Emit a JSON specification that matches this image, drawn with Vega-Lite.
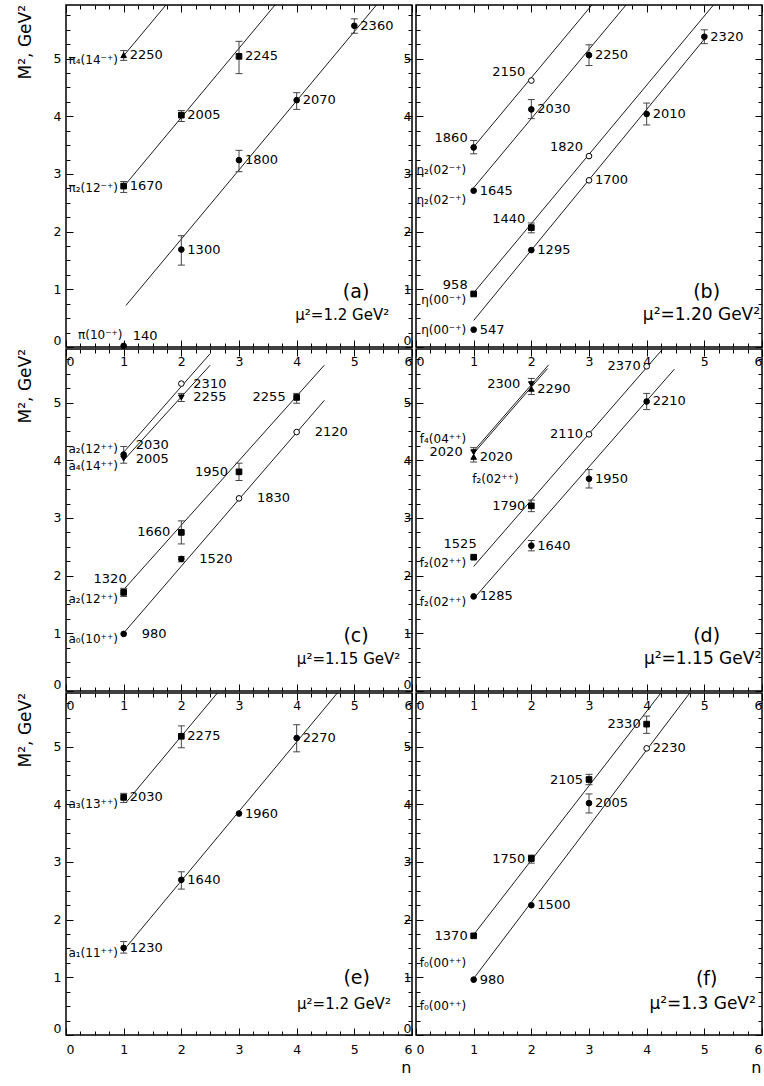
{
"$schema": "https://vega.github.io/schema/vega-lite/v6.json",
"background": "white",
"padding": {"left": 16, "top": 3, "right": 0, "bottom": 0},
"data": {"values": [
{"k":"pt","p":"a","n":1,"m":0.02,"s":"circle","t":"140","q":"ur"},
{"k":"pt","p":"a","n":2,"m":1.69,"lo":1.42,"hi":1.93,"s":"circle","t":"1300","q":"r"},
{"k":"pt","p":"a","n":3,"m":3.24,"lo":3.04,"hi":3.41,"s":"circle","t":"1800","q":"r"},
{"k":"pt","p":"a","n":4,"m":4.28,"lo":4.12,"hi":4.41,"s":"circle","t":"2070","q":"r"},
{"k":"pt","p":"a","n":5,"m":5.57,"lo":5.44,"hi":5.69,"s":"circle","t":"2360","q":"r"},
{"k":"pt","p":"a","n":1,"m":2.79,"lo":2.68,"hi":2.87,"s":"square","t":"1670","q":"r"},
{"k":"pt","p":"a","n":2,"m":4.02,"lo":3.91,"hi":4.10,"s":"square","t":"2005","q":"r"},
{"k":"pt","p":"a","n":3,"m":5.04,"lo":4.74,"hi":5.30,"s":"square","t":"2245","q":"r"},
{"k":"pt","p":"a","n":1,"m":5.06,"lo":4.97,"hi":5.14,"s":"tri","t":"2250","q":"r"},
{"k":"pt","p":"b","n":1,"m":0.30,"s":"circle","t":"547","q":"r"},
{"k":"pt","p":"b","n":2,"m":1.68,"s":"circle","t":"1295","q":"r"},
{"k":"pt","p":"b","n":3,"m":2.89,"s":"open","t":"1700","q":"r"},
{"k":"pt","p":"b","n":4,"m":4.04,"lo":3.85,"hi":4.23,"s":"circle","t":"2010","q":"r"},
{"k":"pt","p":"b","n":5,"m":5.38,"lo":5.26,"hi":5.50,"s":"circle","t":"2320","q":"r"},
{"k":"pt","p":"b","n":1,"m":0.92,"s":"square","t":"958","q":"ul"},
{"k":"pt","p":"b","n":2,"m":2.07,"lo":1.98,"hi":2.15,"s":"square","t":"1440","q":"ul"},
{"k":"pt","p":"b","n":3,"m":3.31,"s":"open","t":"1820","q":"ul"},
{"k":"pt","p":"b","n":1,"m":2.71,"s":"circle","t":"1645","q":"r"},
{"k":"pt","p":"b","n":2,"m":4.12,"lo":3.96,"hi":4.29,"s":"circle","t":"2030","q":"r"},
{"k":"pt","p":"b","n":3,"m":5.06,"lo":4.88,"hi":5.24,"s":"circle","t":"2250","q":"r"},
{"k":"pt","p":"b","n":1,"m":3.46,"lo":3.35,"hi":3.58,"s":"circle","t":"1860","q":"ul"},
{"k":"pt","p":"b","n":2,"m":4.62,"s":"open","t":"2150","q":"ul"},
{"k":"pt","p":"c","n":1,"m":0.99,"s":"circle","t":"980","q":"rw"},
{"k":"pt","p":"c","n":2,"m":2.29,"lo":2.24,"hi":2.33,"s":"circle","t":"1520","q":"rw"},
{"k":"pt","p":"c","n":3,"m":3.34,"s":"open","t":"1830","q":"rw"},
{"k":"pt","p":"c","n":4,"m":4.49,"s":"open","t":"2120","q":"rw"},
{"k":"pt","p":"c","n":1,"m":1.71,"lo":1.64,"hi":1.78,"s":"square","t":"1320","q":"uc"},
{"k":"pt","p":"c","n":2,"m":2.75,"lo":2.55,"hi":2.95,"s":"square","t":"1660","q":"lw"},
{"k":"pt","p":"c","n":3,"m":3.80,"lo":3.65,"hi":3.95,"s":"square","t":"1950","q":"lw"},
{"k":"pt","p":"c","n":4,"m":5.09,"lo":4.99,"hi":5.16,"s":"square","t":"2255","q":"lw"},
{"k":"pt","p":"c","n":1,"m":4.10,"lo":3.95,"hi":4.24,"s":"circle","t":"2030","q":"rmu"},
{"k":"pt","p":"c","n":1,"m":4.03,"s":"tridown","t":"2005","q":"rm"},
{"k":"pt","p":"c","n":2,"m":5.33,"s":"open","t":"2310","q":"rm"},
{"k":"pt","p":"c","n":2,"m":5.09,"lo":5.02,"hi":5.16,"s":"tridown","t":"2255","q":"rm"},
{"k":"pt","p":"d","n":1,"m":1.64,"s":"circle","t":"1285","q":"r"},
{"k":"pt","p":"d","n":2,"m":2.52,"lo":2.43,"hi":2.61,"s":"circle","t":"1640","q":"r"},
{"k":"pt","p":"d","n":3,"m":3.68,"lo":3.52,"hi":3.84,"s":"circle","t":"1950","q":"r"},
{"k":"pt","p":"d","n":4,"m":5.02,"lo":4.88,"hi":5.16,"s":"circle","t":"2210","q":"r"},
{"k":"pt","p":"d","n":1,"m":2.32,"s":"square","t":"1525","q":"uc"},
{"k":"pt","p":"d","n":2,"m":3.21,"lo":3.11,"hi":3.31,"s":"square","t":"1790","q":"l"},
{"k":"pt","p":"d","n":3,"m":4.45,"s":"open","t":"2110","q":"l"},
{"k":"pt","p":"d","n":4,"m":5.63,"s":"open","t":"2370","q":"l"},
{"k":"pt","p":"d","n":1,"m":4.14,"lo":3.97,"hi":4.22,"s":"tridown","t":"2020","q":"lw"},
{"k":"pt","p":"d","n":1,"m":4.06,"s":"tri","t":"2020","q":"r"},
{"k":"pt","p":"d","n":2,"m":5.32,"lo":5.14,"hi":5.42,"s":"tridown","t":"2300","q":"lw"},
{"k":"pt","p":"d","n":2,"m":5.24,"s":"tri","t":"2290","q":"r"},
{"k":"pt","p":"e","n":1,"m":1.51,"lo":1.42,"hi":1.62,"s":"circle","t":"1230","q":"r"},
{"k":"pt","p":"e","n":2,"m":2.69,"lo":2.53,"hi":2.83,"s":"circle","t":"1640","q":"r"},
{"k":"pt","p":"e","n":3,"m":3.84,"s":"circle","t":"1960","q":"r"},
{"k":"pt","p":"e","n":4,"m":5.15,"lo":4.91,"hi":5.38,"s":"circle","t":"2270","q":"r"},
{"k":"pt","p":"e","n":1,"m":4.12,"lo":4.03,"hi":4.19,"s":"square","t":"2030","q":"r"},
{"k":"pt","p":"e","n":2,"m":5.18,"lo":4.98,"hi":5.36,"s":"square","t":"2275","q":"r"},
{"k":"pt","p":"f","n":1,"m":0.96,"s":"circle","t":"980","q":"r"},
{"k":"pt","p":"f","n":2,"m":2.25,"s":"circle","t":"1500","q":"r"},
{"k":"pt","p":"f","n":3,"m":4.02,"lo":3.85,"hi":4.18,"s":"circle","t":"2005","q":"r"},
{"k":"pt","p":"f","n":4,"m":4.97,"s":"open","t":"2230","q":"r"},
{"k":"pt","p":"f","n":1,"m":1.72,"s":"square","t":"1370","q":"l"},
{"k":"pt","p":"f","n":2,"m":3.06,"lo":2.98,"hi":3.12,"s":"square","t":"1750","q":"l"},
{"k":"pt","p":"f","n":3,"m":4.43,"lo":4.34,"hi":4.52,"s":"square","t":"2105","q":"l"},
{"k":"pt","p":"f","n":4,"m":5.39,"lo":5.23,"hi":5.53,"s":"square","t":"2330","q":"l"},
{"k":"line","p":"a","lid":"a1","n":1.0,"m":5.05},
{"k":"line","p":"a","lid":"a1","n":1.9,"m":6.13},
{"k":"line","p":"a","lid":"a2","n":1.05,"m":2.84},
{"k":"line","p":"a","lid":"a2","n":3.85,"m":6.2},
{"k":"line","p":"a","lid":"a3","n":1.04,"m":0.72},
{"k":"line","p":"a","lid":"a3","n":5.45,"m":6.01},
{"k":"line","p":"b","lid":"b1","n":1.0,"m":3.47},
{"k":"line","p":"b","lid":"b1","n":3.2,"m":6.11},
{"k":"line","p":"b","lid":"b2","n":1.0,"m":2.76},
{"k":"line","p":"b","lid":"b2","n":3.7,"m":6.0},
{"k":"line","p":"b","lid":"b3","n":1.0,"m":0.94},
{"k":"line","p":"b","lid":"b3","n":5.2,"m":5.98},
{"k":"line","p":"b","lid":"b4","n":1.0,"m":0.46},
{"k":"line","p":"b","lid":"b4","n":5.05,"m":5.4},
{"k":"line","p":"c","lid":"c1","n":1.0,"m":4.14},
{"k":"line","p":"c","lid":"c1","n":2.5,"m":5.85},
{"k":"line","p":"c","lid":"c2","n":1.0,"m":4.0},
{"k":"line","p":"c","lid":"c2","n":2.5,"m":5.65},
{"k":"line","p":"c","lid":"c3","n":1.02,"m":1.78},
{"k":"line","p":"c","lid":"c3","n":4.48,"m":5.65},
{"k":"line","p":"c","lid":"c4","n":1.03,"m":1.04},
{"k":"line","p":"c","lid":"c4","n":4.48,"m":5.04},
{"k":"line","p":"d","lid":"d1","n":1.0,"m":4.16},
{"k":"line","p":"d","lid":"d1","n":2.3,"m":5.655},
{"k":"line","p":"d","lid":"d2","n":1.0,"m":4.12},
{"k":"line","p":"d","lid":"d2","n":2.28,"m":5.59},
{"k":"line","p":"d","lid":"d3","n":1.0,"m":2.16},
{"k":"line","p":"d","lid":"d3","n":4.4,"m":6.07},
{"k":"line","p":"d","lid":"d4","n":1.0,"m":1.6},
{"k":"line","p":"d","lid":"d4","n":4.48,"m":5.58},
{"k":"line","p":"e","lid":"e1","n":1.04,"m":4.03},
{"k":"line","p":"e","lid":"e1","n":2.7,"m":6.02},
{"k":"line","p":"e","lid":"e2","n":1.05,"m":1.53},
{"k":"line","p":"e","lid":"e2","n":4.78,"m":6.02},
{"k":"line","p":"f","lid":"f1","n":1.0,"m":1.74},
{"k":"line","p":"f","lid":"f1","n":4.3,"m":6.0},
{"k":"line","p":"f","lid":"f2","n":1.0,"m":0.98},
{"k":"line","p":"f","lid":"f2","n":4.8,"m":6.0},
{"k":"name","p":"a","n":0.9,"m":4.97,"t":"π₄(14⁻⁺)"},
{"k":"name","p":"a","n":0.9,"m":2.75,"t":"π₂(12⁻⁺)"},
{"k":"name","p":"a","n":0.98,"m":0.21,"t":"π(10⁻⁺)"},
{"k":"name","p":"b","n":0.87,"m":3.07,"t":"η₂(02⁻⁺)"},
{"k":"name","p":"b","n":0.87,"m":2.55,"t":"η₂(02⁻⁺)"},
{"k":"name","p":"b","n":0.87,"m":0.81,"t":"η(00⁻⁺)"},
{"k":"name","p":"b","n":0.87,"m":0.29,"t":"η(00⁻⁺)"},
{"k":"name","p":"c","n":0.9,"m":4.19,"t":"a₂(12⁺⁺)"},
{"k":"name","p":"c","n":0.9,"m":3.90,"t":"a₄(14⁺⁺)"},
{"k":"name","p":"c","n":0.9,"m":1.60,"t":"a₂(12⁺⁺)"},
{"k":"name","p":"c","n":0.9,"m":0.90,"t":"a₀(10⁺⁺)"},
{"k":"name","p":"d","n":0.87,"m":4.37,"t":"f₄(04⁺⁺)"},
{"k":"name","p":"d","n":1.78,"m":3.68,"t":"f₂(02⁺⁺)"},
{"k":"name","p":"d","n":0.87,"m":2.22,"t":"f₂(02⁺⁺)"},
{"k":"name","p":"d","n":0.87,"m":1.55,"t":"f₂(02⁺⁺)"},
{"k":"name","p":"e","n":0.9,"m":4.01,"t":"a₃(13⁺⁺)"},
{"k":"name","p":"e","n":0.9,"m":1.43,"t":"a₁(11⁺⁺)"},
{"k":"name","p":"f","n":0.87,"m":1.24,"t":"f₀(00⁺⁺)"},
{"k":"name","p":"f","n":0.87,"m":0.50,"t":"f₀(00⁺⁺)"},
{"k":"let","p":"a","n":5.03,"m":0.95,"t":"(a)"},
{"k":"let","p":"b","n":5.04,"m":0.95,"t":"(b)"},
{"k":"let","p":"c","n":5.03,"m":0.95,"t":"(c)"},
{"k":"let","p":"d","n":5.04,"m":0.96,"t":"(d)"},
{"k":"let","p":"e","n":5.04,"m":0.98,"t":"(e)"},
{"k":"let","p":"f","n":5.04,"m":0.97,"t":"(f)"},
{"k":"mu","p":"a","n":4.79,"m":0.55,"t":"μ²=1.2 GeV²"},
{"k":"mu","p":"b","n":4.95,"m":0.55,"t":"μ²=1.20 GeV²"},
{"k":"mu","p":"c","n":4.9,"m":0.56,"t":"μ²=1.15 GeV²"},
{"k":"mu","p":"d","n":4.97,"m":0.56,"t":"μ²=1.15 GeV²"},
{"k":"mu","p":"e","n":4.82,"m":0.54,"t":"μ²=1.2 GeV²"},
{"k":"mu","p":"f","n":4.97,"m":0.54,"t":"μ²=1.3  GeV²"},
{"k":"yt","p":"a","n":-0.69,"m":5.93,"t":"M², GeV²"},
{"k":"yt","p":"c","n":-0.69,"m":5.93,"t":"M², GeV²"},
{"k":"yt","p":"e","n":-0.69,"m":5.93,"t":"M², GeV²"},
{"k":"xt","p":"e","n":5.9,"m":-0.58,"t":"n"},
{"k":"xt","p":"f","n":5.9,"m":-0.58,"t":"n"}
]},
"facet": {"field": "p", "type": "nominal", "title": null, "header": {"title": null, "labels": false, "labelFontSize": 0, "labelPadding": 0, "labelExpr": "''"}},
"columns": 2,
"spacing": {"row": 2, "column": 4},
"bounds": "flush",
"resolve": {"axis": {"x": "independent", "y": "independent"}},
"config": {
  "view": {"stroke": "black", "strokeWidth": 1.5},
  "header": {"labels": false, "title": null, "labelFontSize": 0, "labelPadding": 0},
  "axis": {"domain": false, "grid": false, "tickColor": "black", "tickWidth": 1, "labelColor": "black", "labelFont": "DejaVu Sans", "labelFontSize": 12.5},
  "text": {"font": "DejaVu Sans", "color": "black", "fontSize": 13}
},
"spec": {
  "width": 346,
  "height": 342,
  "resolve": {"axis": {"x": "independent", "y": "independent"}},
  "layer": [
    {"transform": [{"filter": "datum.k=='line'"}],
     "mark": {"type": "line", "clip": true, "color": "black", "strokeWidth": 0.9},
     "encoding": {
       "x": {"field": "n", "type": "quantitative", "scale": {"domain": [0, 6], "nice": false, "zero": false}, "axis": {"orient": "bottom", "values": [0,1,2,3,4,5,6], "tickSize": -7, "labelPadding": 15, "labelFlush": true, "title": null}},
       "y": {"field": "m", "type": "quantitative", "scale": {"domain": [0, 5.93], "nice": false, "zero": false}, "axis": {"orient": "left", "values": [0,1,2,3,4,5], "tickSize": -7, "labelPadding": 12, "labelFlush": true, "title": null}},
       "detail": {"field": "lid", "type": "nominal"}
     }},
    {"transform": [{"filter": "datum.k=='pt' && isValid(datum.lo)"}],
     "mark": {"type": "rule", "color": "#444", "strokeWidth": 1},
     "encoding": {
       "x": {"field": "n", "type": "quantitative", "scale": {"domain": [0, 6], "nice": false, "zero": false}, "axis": {"orient": "bottom", "values": [0.25,0.5,0.75,1.25,1.5,1.75,2.25,2.5,2.75,3.25,3.5,3.75,4.25,4.5,4.75,5.25,5.5,5.75], "tickSize": -4, "labels": false, "title": null}},
       "y": {"field": "lo", "type": "quantitative", "scale": {"domain": [0, 5.93], "nice": false, "zero": false}, "axis": {"orient": "left", "values": [0.25,0.5,0.75,1.25,1.5,1.75,2.25,2.5,2.75,3.25,3.5,3.75,4.25,4.5,4.75,5.25,5.5,5.75], "tickSize": -4, "labels": false, "title": null}},
       "y2": {"field": "hi"}
     }},
    {"transform": [{"filter": "datum.k=='pt' && isValid(datum.lo)"}, {"fold": ["lo", "hi"], "as": ["end", "ev"]}],
     "mark": {"type": "tick", "orient": "horizontal", "size": 7, "thickness": 1, "color": "#444", "opacity": 1},
     "encoding": {
       "x": {"field": "n", "type": "quantitative", "scale": {"domain": [0, 6], "nice": false, "zero": false}, "axis": {"orient": "top", "values": [0,1,2,3,4,5,6], "tickSize": -7, "labels": false, "title": null}},
       "y": {"field": "ev", "type": "quantitative", "scale": {"domain": [0, 5.93], "nice": false, "zero": false}, "axis": {"orient": "right", "values": [0,1,2,3,4,5], "tickSize": -7, "labels": false, "title": null}}
     }},
    {"transform": [{"filter": "datum.k=='pt'"}],
     "mark": {"type": "point", "size": 32, "stroke": "black", "strokeWidth": 1, "opacity": 1},
     "encoding": {
       "x": {"field": "n", "type": "quantitative", "scale": {"domain": [0, 6], "nice": false, "zero": false}, "axis": {"orient": "top", "values": [0.25,0.5,0.75,1.25,1.5,1.75,2.25,2.5,2.75,3.25,3.5,3.75,4.25,4.5,4.75,5.25,5.5,5.75], "tickSize": -4, "labels": false, "title": null}},
       "y": {"field": "m", "type": "quantitative", "scale": {"domain": [0, 5.93], "nice": false, "zero": false}, "axis": {"orient": "right", "values": [0.25,0.5,0.75,1.25,1.5,1.75,2.25,2.5,2.75,3.25,3.5,3.75,4.25,4.5,4.75,5.25,5.5,5.75], "tickSize": -4, "labels": false, "title": null}},
       "shape": {"field": "s", "type": "nominal", "scale": {"domain": ["circle","square","tri","tridown","open"], "range": ["circle","square","triangle-up","triangle-down","circle"]}, "legend": null},
       "fill": {"field": "s", "type": "nominal", "scale": {"domain": ["circle","square","tri","tridown","open"], "range": ["black","black","black","black","white"]}, "legend": null}
     }},
    {"transform": [{"filter": "datum.k=='pt' && datum.q=='r'"}],
     "mark": {"type": "text", "align": "left", "baseline": "middle", "dx": 6},
     "encoding": {"x": {"field": "n", "type": "quantitative", "axis": null}, "y": {"field": "m", "type": "quantitative", "axis": null}, "text": {"field": "t"}}},
    {"transform": [{"filter": "datum.k=='pt' && datum.q=='ur'"}],
     "mark": {"type": "text", "align": "left", "baseline": "middle", "dx": 9, "dy": -10},
     "encoding": {"x": {"field": "n", "type": "quantitative", "axis": null}, "y": {"field": "m", "type": "quantitative", "axis": null}, "text": {"field": "t"}}},
    {"transform": [{"filter": "datum.k=='pt' && datum.q=='rm'"}],
     "mark": {"type": "text", "align": "left", "baseline": "middle", "dx": 12},
     "encoding": {"x": {"field": "n", "type": "quantitative", "axis": null}, "y": {"field": "m", "type": "quantitative", "axis": null}, "text": {"field": "t"}}},
    {"transform": [{"filter": "datum.k=='pt' && datum.q=='rmu'"}],
     "mark": {"type": "text", "align": "left", "baseline": "middle", "dx": 12, "dy": -10},
     "encoding": {"x": {"field": "n", "type": "quantitative", "axis": null}, "y": {"field": "m", "type": "quantitative", "axis": null}, "text": {"field": "t"}}},
    {"transform": [{"filter": "datum.k=='pt' && datum.q=='rw'"}],
     "mark": {"type": "text", "align": "left", "baseline": "middle", "dx": 18},
     "encoding": {"x": {"field": "n", "type": "quantitative", "axis": null}, "y": {"field": "m", "type": "quantitative", "axis": null}, "text": {"field": "t"}}},
    {"transform": [{"filter": "datum.k=='pt' && datum.q=='l'"}],
     "mark": {"type": "text", "align": "right", "baseline": "middle", "dx": -6},
     "encoding": {"x": {"field": "n", "type": "quantitative", "axis": null}, "y": {"field": "m", "type": "quantitative", "axis": null}, "text": {"field": "t"}}},
    {"transform": [{"filter": "datum.k=='pt' && datum.q=='lw'"}],
     "mark": {"type": "text", "align": "right", "baseline": "middle", "dx": -11},
     "encoding": {"x": {"field": "n", "type": "quantitative", "axis": null}, "y": {"field": "m", "type": "quantitative", "axis": null}, "text": {"field": "t"}}},
    {"transform": [{"filter": "datum.k=='pt' && datum.q=='ul'"}],
     "mark": {"type": "text", "align": "right", "baseline": "middle", "dx": -6, "dy": -9},
     "encoding": {"x": {"field": "n", "type": "quantitative", "axis": null}, "y": {"field": "m", "type": "quantitative", "axis": null}, "text": {"field": "t"}}},
    {"transform": [{"filter": "datum.k=='pt' && datum.q=='uc'"}],
     "mark": {"type": "text", "align": "right", "baseline": "middle", "dx": 3, "dy": -13},
     "encoding": {"x": {"field": "n", "type": "quantitative", "axis": null}, "y": {"field": "m", "type": "quantitative", "axis": null}, "text": {"field": "t"}}},
    {"transform": [{"filter": "datum.k=='name'"}],
     "mark": {"type": "text", "align": "right", "baseline": "middle", "fontSize": 12},
     "encoding": {"x": {"field": "n", "type": "quantitative", "axis": null}, "y": {"field": "m", "type": "quantitative", "axis": null}, "text": {"field": "t"}}},
    {"transform": [{"filter": "datum.k=='let'"}],
     "mark": {"type": "text", "align": "center", "baseline": "middle", "fontSize": 19},
     "encoding": {"x": {"field": "n", "type": "quantitative", "axis": null}, "y": {"field": "m", "type": "quantitative", "axis": null}, "text": {"field": "t"}}},
    {"transform": [{"filter": "datum.k=='mu' && indexof(['a','c','e'], datum.p) >= 0"}],
     "mark": {"type": "text", "align": "center", "baseline": "middle", "fontSize": 15},
     "encoding": {"x": {"field": "n", "type": "quantitative", "axis": null}, "y": {"field": "m", "type": "quantitative", "axis": null}, "text": {"field": "t"}}},
    {"transform": [{"filter": "datum.k=='mu' && indexof(['b','d','f'], datum.p) >= 0"}],
     "mark": {"type": "text", "align": "center", "baseline": "middle", "fontSize": 17},
     "encoding": {"x": {"field": "n", "type": "quantitative", "axis": null}, "y": {"field": "m", "type": "quantitative", "axis": null}, "text": {"field": "t"}}},
    {"transform": [{"filter": "datum.k=='yt'"}],
     "mark": {"type": "text", "align": "right", "baseline": "middle", "angle": 270, "fontSize": 17},
     "encoding": {"x": {"field": "n", "type": "quantitative", "axis": null}, "y": {"field": "m", "type": "quantitative", "axis": null}, "text": {"field": "t"}}},
    {"transform": [{"filter": "datum.k=='xt'"}],
     "mark": {"type": "text", "align": "center", "baseline": "middle", "fontSize": 16},
     "encoding": {"x": {"field": "n", "type": "quantitative", "axis": null}, "y": {"field": "m", "type": "quantitative", "axis": null}, "text": {"field": "t"}}}
  ]
}
}
